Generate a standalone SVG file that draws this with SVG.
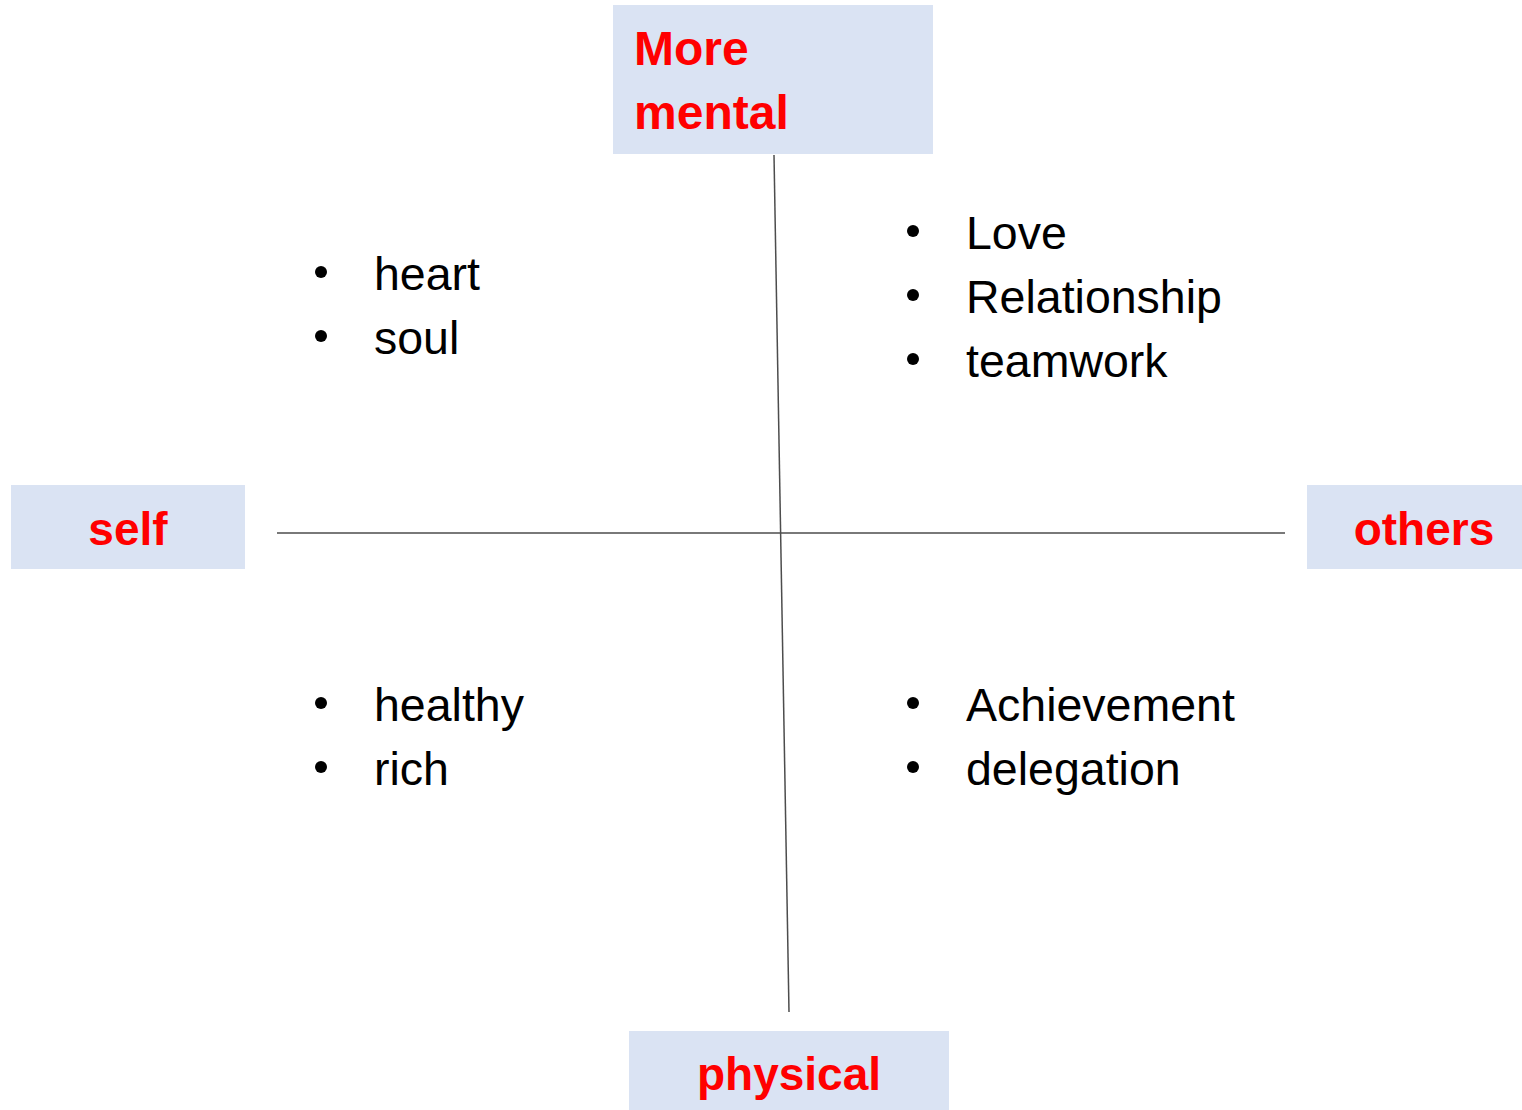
<svg xmlns="http://www.w3.org/2000/svg" width="1522" height="1110" viewBox="0 0 1522 1110">
<style>
.box{fill:#dae3f3}
.lbl{font-family:"Liberation Sans",Arial,sans-serif;font-weight:bold;font-size:46px;fill:#ff0000}
.big{font-size:48px}
.item{font-family:"Liberation Sans",Arial,sans-serif;font-size:46.5px;fill:#000}
.dot{fill:#000}
.axis{stroke:#4d4d4d;stroke-width:1.5;fill:none}
</style>
<rect width="1522" height="1110" fill="#fff"/>
<g id="connectors">
<line class="axis" x1="774" y1="155" x2="789" y2="1012"/>
<line class="axis" x1="277" y1="533" x2="1285" y2="533"/>
</g>
<g id="node-mental">
<rect class="box" x="613" y="5" width="320" height="149"/>
<text class="lbl big" x="634" y="65">More</text>
<text class="lbl big" x="634" y="129">mental</text>
</g>
<g id="node-self">
<rect class="box" x="11" y="485" width="234" height="84"/>
<text class="lbl" x="128" y="545" text-anchor="middle">self</text>
</g>
<g id="node-others">
<rect class="box" x="1307" y="485" width="215" height="84"/>
<text class="lbl" x="1424" y="545" text-anchor="middle">others</text>
</g>
<g id="node-physical">
<rect class="box" x="629" y="1031" width="320" height="79"/>
<text class="lbl" x="789" y="1090" text-anchor="middle">physical</text>
</g>
<g id="node-top-left">
<circle class="dot" cx="321" cy="272" r="6"/>
<text class="item" x="374" y="290">heart</text>
<circle class="dot" cx="321" cy="336" r="6"/>
<text class="item" x="374" y="354">soul</text>
</g>
<g id="node-top-right">
<circle class="dot" cx="913" cy="231" r="6"/>
<text class="item" x="966" y="249">Love</text>
<circle class="dot" cx="913" cy="295" r="6"/>
<text class="item" x="966" y="313">Relationship</text>
<circle class="dot" cx="913" cy="359" r="6"/>
<text class="item" x="966" y="377">teamwork</text>
</g>
<g id="node-bottom-left">
<circle class="dot" cx="321" cy="703" r="6"/>
<text class="item" x="374" y="721">healthy</text>
<circle class="dot" cx="321" cy="767" r="6"/>
<text class="item" x="374" y="785">rich</text>
</g>
<g id="node-bottom-right">
<circle class="dot" cx="913" cy="703" r="6"/>
<text class="item" x="966" y="721">Achievement</text>
<circle class="dot" cx="913" cy="767" r="6"/>
<text class="item" x="966" y="785">delegation</text>
</g>
</svg>
